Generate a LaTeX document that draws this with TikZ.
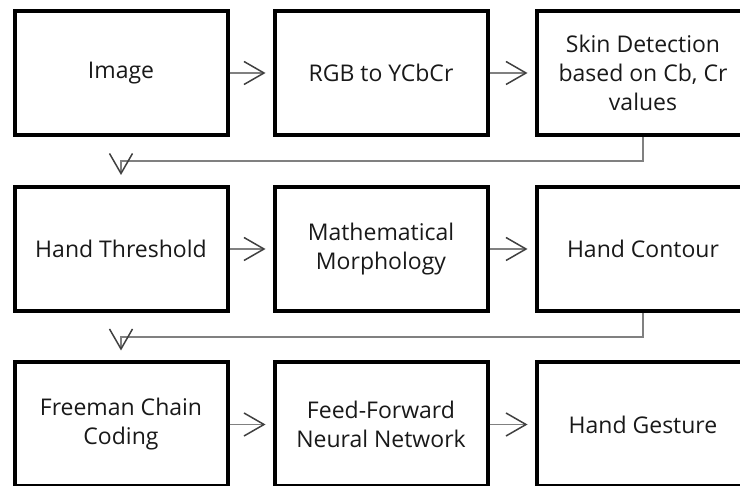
\documentclass[tikz,border=0pt]{standalone}
\usepackage{fontspec}
\setmainfont{Open Sans}
\usetikzlibrary{arrows.meta}

\begin{document}
\begin{tikzpicture}
      [x=1pt,y=-1pt
      ,box/.style={draw=black,line width=4pt,minimum width=213pt,minimum height=124pt,inner sep=0,align=center,text=black!90,font=\fontsize{23}{29}\selectfont}
      ,lin/.style={draw=black!50,line width=1.5pt,-{Straight Barb[length=20pt,width=23pt,color=black!75]}}]
        \useasboundingbox (0,0) rectangle (740,486);
        \clip (0,0) rectangle (740,486);
        \coordinate (A1) at (121,73);
        \coordinate (A2) at (381,73);
        \coordinate (A3) at (643,73);
        \coordinate (B1) at (121,249);
        \coordinate (B2) at (381,249);
        \coordinate (B3) at (643,249);
        \coordinate (C1) at (121,424.5);
        \coordinate (C2) at (381,424.5);
        \coordinate (C3) at (643,424.5);
        \node[box] (img)   at (A1) {Image};
        \node[box] (ycc)   at (A2) {RGB to YCbCr};
        \node[box] (skin)  at (A3) {Skin Detection\\based on Cb, Cr\\values};
        \node[box] (thr)   at (B1) {Hand Threshold};
        \node[box] (morph) at (B2) {Mathematical\\Morphology};
        \node[box] (cont)  at (B3) {Hand Contour};
        \node[box] (fcc)   at (C1) {Freeman Chain\\Coding};
        \node[box] (ffnn)  at (C2) {Feed-Forward\\Neural Network};
        \node[box] (gest)  at (C3) {Hand Gesture};
        \foreach \a/\b in {img/ycc,ycc/skin,thr/morph,morph/cont,fcc/ffnn,ffnn/gest}{
          \draw[lin,shorten >=7pt] (\a) -- (\b);
        }
        \draw[lin,shorten >=10pt] (skin.south) -- ++(0,24) -| (thr.north);
        \draw[lin,shorten >=10pt] (cont.south) -- ++(0,24) -| (fcc.north);
      \end{tikzpicture}
\end{document}
